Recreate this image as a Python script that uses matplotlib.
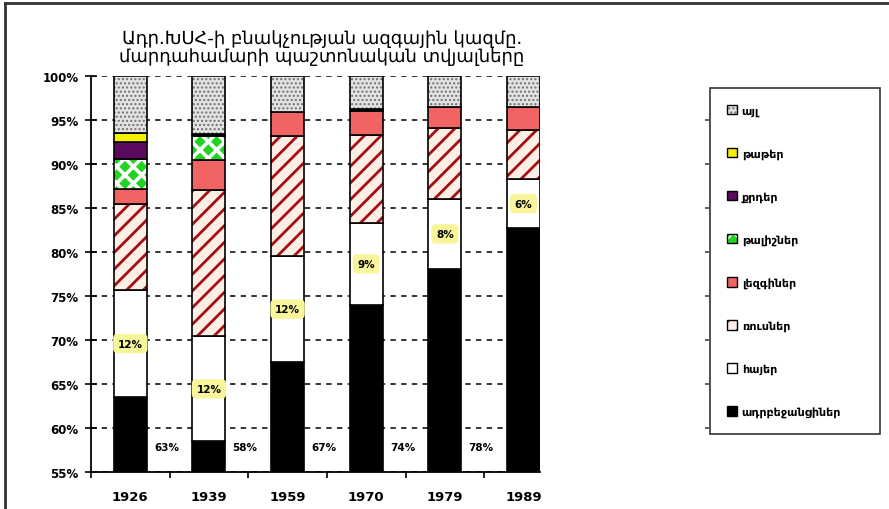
import matplotlib
matplotlib.use('Agg')
import matplotlib.pyplot as plt
from matplotlib.patches import Patch
from matplotlib.lines import Line2D
import numpy as np

years = ['1926', '1939', '1959', '1970', '1979', '1989']

# shares in percent, bottom to top
azerbaijanis = [63.5, 58.5, 67.5, 74.0, 78.1, 82.7]
armenians = [12.2, 11.9, 12.0, 9.3, 7.9, 5.6]
russians = [9.8, 16.6, 13.7, 10.0, 8.1, 5.6]
lezgins = [1.7, 3.5, 2.7, 2.7, 2.4, 2.6]
talysh = [3.4, 2.7, 0.0, 0.0, 0.0, 0.0]
kurds = [1.9, 0.2, 0.0, 0.2, 0.0, 0.0]
tats = [1.0, 0.0, 0.0, 0.0, 0.0, 0.0]
other = [6.5, 6.6, 4.1, 3.8, 3.5, 3.5]

az_labels = ['63%', '58%', '67%', '74%', '78%', '']
arm_labels = ['12%', '12%', '12%', '9%', '8%', '6%']

names = ['ադրբեջանցիներ', 'հայեր', 'ռուսներ', 'լեզգիներ',
         'թալիշներ', 'քրդեր', 'թաթեր', 'այլ']

title = 'Ադր.ԽՍՀ-ի բնակչության ազգային կազմը.\nմարդահամարի պաշտոնական տվյալները'

series = [azerbaijanis, armenians, russians, lezgins, talysh, kurds, tats, other]
styles = [
    dict(facecolor='black'),
    dict(facecolor='white'),
    dict(facecolor='#fdeee6', hatch='//', hcolor='#a50f15', hlw=2.0),
    dict(facecolor='#f26464'),
    dict(facecolor='#22d422', hatch='xx', hcolor='white', hlw=2.6),
    dict(facecolor='#5c0a5c'),
    dict(facecolor='#f5f000'),
    dict(facecolor='#e2e2e2', hatch='....', hcolor='#707070', hlw=1.0),
]


def apply_hatch(p, st):
    if 'hatch' not in st:
        return
    p.set_hatch(st['hatch'])
    p._hatch_color = matplotlib.colors.to_rgba(st['hcolor'])
    if hasattr(p, 'set_hatch_linewidth'):
        p.set_hatch_linewidth(st['hlw'])
    else:
        p._hatch_linewidth = st['hlw']


plt.rcParams['font.family'] = ['DejaVu Sans']

fig = plt.figure(figsize=(8.89, 5.10), dpi=100)
ax = fig.add_axes([91 / 889, 1 - 473 / 510, 449 / 889, 396 / 510])

x = np.arange(len(years))
bottom = np.zeros(len(years))
handles = []
for vals, st, name in zip(series, styles, names):
    vals = np.array(vals)
    bars = ax.bar(x, vals, bottom=bottom, width=0.42, color=st['facecolor'],
                  edgecolor='black', linewidth=1.2, zorder=3)
    for b in bars:
        apply_hatch(b, st)
    h = Patch(facecolor=st['facecolor'], edgecolor='black', linewidth=1)
    apply_hatch(h, st)
    handles.append(h)
    bottom = bottom + vals

# percent labels
for i in range(len(years)):
    if az_labels[i]:
        ax.text(x[i] + 0.46, 57.8, az_labels[i], ha='center', va='center',
                fontsize=7.5, fontweight='bold', zorder=5)
    mid = azerbaijanis[i] + armenians[i] / 2
    ax.text(x[i], mid, arm_labels[i], ha='center', va='center',
            fontsize=7.5, fontweight='bold', zorder=5,
            bbox=dict(boxstyle='round,pad=0.45', facecolor='#f8f59a',
                      edgecolor='none'))

ax.set_ylim(55, 100)
ax.set_xlim(-0.5, 5.21)
yt = np.arange(55, 101, 5)
ax.set_yticks(yt)
ax.set_yticklabels(['%d%%' % v for v in yt], fontweight='bold', fontsize=8.5)
ax.set_xticks(x)
ax.set_xticklabels(years, fontweight='bold', fontsize=9.5)
ax.set_xticks(np.arange(-0.5, len(years) - 1), minor=True)
ax.tick_params(axis='x', which='major', length=0, pad=13)
ax.tick_params(axis='x', which='minor', length=4, width=1.2, direction='out')
ax.tick_params(axis='y', length=8, width=1.2, direction='inout', pad=5)
ax.grid(axis='y', color='black', linestyle=(0, (3.5, 3.5)), linewidth=1.1,
        zorder=0)
for s in ['top', 'right']:
    ax.spines[s].set_visible(False)
ax.spines['left'].set_linewidth(1.3)
ax.spines['bottom'].set_linewidth(1.3)

# stray tick marks left of legend box
sec = ax.secondary_yaxis((705 - 91) / 449)
sec.spines['right'].set_visible(False)
sec.spines['left'].set_visible(False)
sec.set_yticks(np.arange(60, 100, 5))
sec.tick_params(length=3, width=1.2, labelleft=False, labelright=False,
                direction='out', colors='#444444')

fig.text(322 / 889, 1 - 48 / 510, title, ha='center', va='center',
         fontsize=13, linespacing=1.05)

leg = fig.legend(handles[::-1], names[::-1], loc='upper left',
                 bbox_to_anchor=(710 / 889, 1 - 89 / 510, 170 / 889, 0.0),
                 mode='expand', frameon=True, fancybox=False,
                 handlelength=0.9, handleheight=0.9, handletextpad=0.4,
                 labelspacing=2.9, borderpad=1.55, borderaxespad=0,
                 prop=dict(weight='bold', size=8))
leg.get_frame().set_edgecolor('black')
leg.get_frame().set_linewidth(1.2)

# outer frame
fig.add_artist(Line2D([5 / 889, 1.0], [1 - 4 / 510, 1 - 4 / 510],
                      color='#333333', linewidth=2))
fig.add_artist(Line2D([5 / 889, 5 / 889], [0.0, 1 - 4 / 510],
                      color='#333333', linewidth=2))

fig.savefig('out.png', dpi=100)
